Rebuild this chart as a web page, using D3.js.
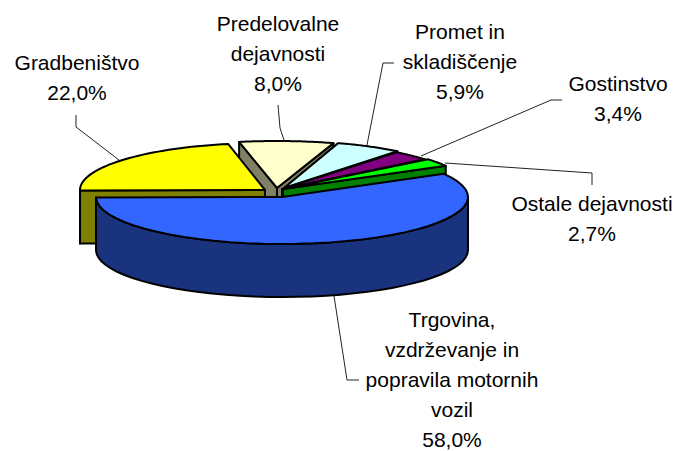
<!DOCTYPE html>
<html><head><meta charset="utf-8">
<style>html,body{margin:0;padding:0;background:#fff}svg{display:block}</style>
<script src="https://d3js.org/d3.v7.min.js"></script></head>
<body><svg id="c" width="679" height="451"></svg>
<script>
const categories=[["Predelovalne","dejavnosti"],["Promet in","skladiščenje"],["Gostinstvo"],["Ostale dejavnosti"],["Trgovina,","vzdrževanje in","popravila motornih","vozil"],["Gradbeništvo"]];
const shares=[8.0,5.9,3.4,2.7,58.0,22.0];
const topColors=["#FFFFCC","#CCFFFF","#800080","#00FF00","#3366FF","#FFFF00"];
const wallColors=["#808066","#668080","#400040","#008000","#19337F","#808000"];
const centersX=[277,284,282,283,282,265];
const centersY=[188,188,189,189,197,190];
const radiiX=[190,182,184,187,186,185];
const radiiY=[47,47,47,47,47,47];
const labelX=[278,460,618,592,452,77];
const labelY=[31,39,91,211,327,70];
const leaders=[
 [[278,105],[280,128],[284,140]],
 [[394,63],[383,63],[367,145]],
 [[562,100],[551,100],[421,156]],
 [[592,185],[592,173],[445,163]],
 [[359,380],[347,380],[334,296]],
 [[76,115],[76,127],[119,160]]];
const depth=53;
const svg=d3.select("#c");
const rad=Math.PI/180;
const arcs=d3.pie().sort(null).startAngle(-11.5*rad).endAngle(348.5*rad)(shares);
const line=d3.line();
const pt=(i,a,dy=0)=>[centersX[i]+radiiX[i]*Math.sin(a),centersY[i]-radiiY[i]*Math.cos(a)+dy];
const arcPts=(i,a0,a1,dy=0)=>d3.range(0,41).map(k=>pt(i,a0+(a1-a0)*k/40,dy));
const stroke=(s)=>s.attr("stroke","#000").attr("stroke-width",2).attr("stroke-linejoin","round");
function drawWalls(i){
  const a=arcs[i],c=[centersX[i],centersY[i]];
  const face=(e)=>{const p=pt(i,e);return [c,p,[p[0],p[1]+depth],[c[0],c[1]+depth]];};
  // a cut face is only visible when it turns towards the viewer
  if(Math.cos(a.endAngle)>0 && Math.sin(a.endAngle)>0)
    svg.append("path").attr("d",line(face(a.endAngle))+"Z").attr("fill",wallColors[i]).call(stroke);
  if(Math.sin(a.startAngle)<0)
    svg.append("path").attr("d",line(face(a.startAngle))+"Z").attr("fill",wallColors[i]).call(stroke);
  const lo=Math.max(a.startAngle,Math.PI/2),hi=Math.min(a.endAngle,Math.PI*1.5);
  if(hi>lo){
    const t=arcPts(i,lo,hi),b=arcPts(i,lo,hi,depth).reverse();
    svg.append("path").attr("d",line(t.concat(b))+"Z").attr("fill",wallColors[i]).call(stroke);
  }
}
function drawTop(i){
  const a=arcs[i];
  const pts=[[centersX[i],centersY[i]]].concat(arcPts(i,a.startAngle,a.endAngle));
  svg.append("path").attr("d",line(pts)+"Z").attr("fill",topColors[i]).call(stroke);
}
leaders.forEach(l=>svg.append("path").attr("d",line(l)).attr("fill","none").attr("stroke","#222").attr("stroke-width",1));
drawWalls(0);drawWalls(5);drawTop(5);drawTop(0);
[1,2,3].forEach(i=>{drawWalls(i);drawTop(i);});
drawWalls(4);drawTop(4);
categories.forEach((lines,i)=>{
  const t=svg.append("text").attr("text-anchor","middle").attr("font-family","Liberation Sans, Arial, sans-serif").attr("font-size",21).attr("fill","#000");
  lines.concat([d3.format(".1f")(shares[i]).replace(".",",")+"%"]).forEach((s,k)=>{
    t.append("tspan").attr("x",labelX[i]).attr("y",labelY[i]+k*30).text(s);
  });
});
</script></body></html>
